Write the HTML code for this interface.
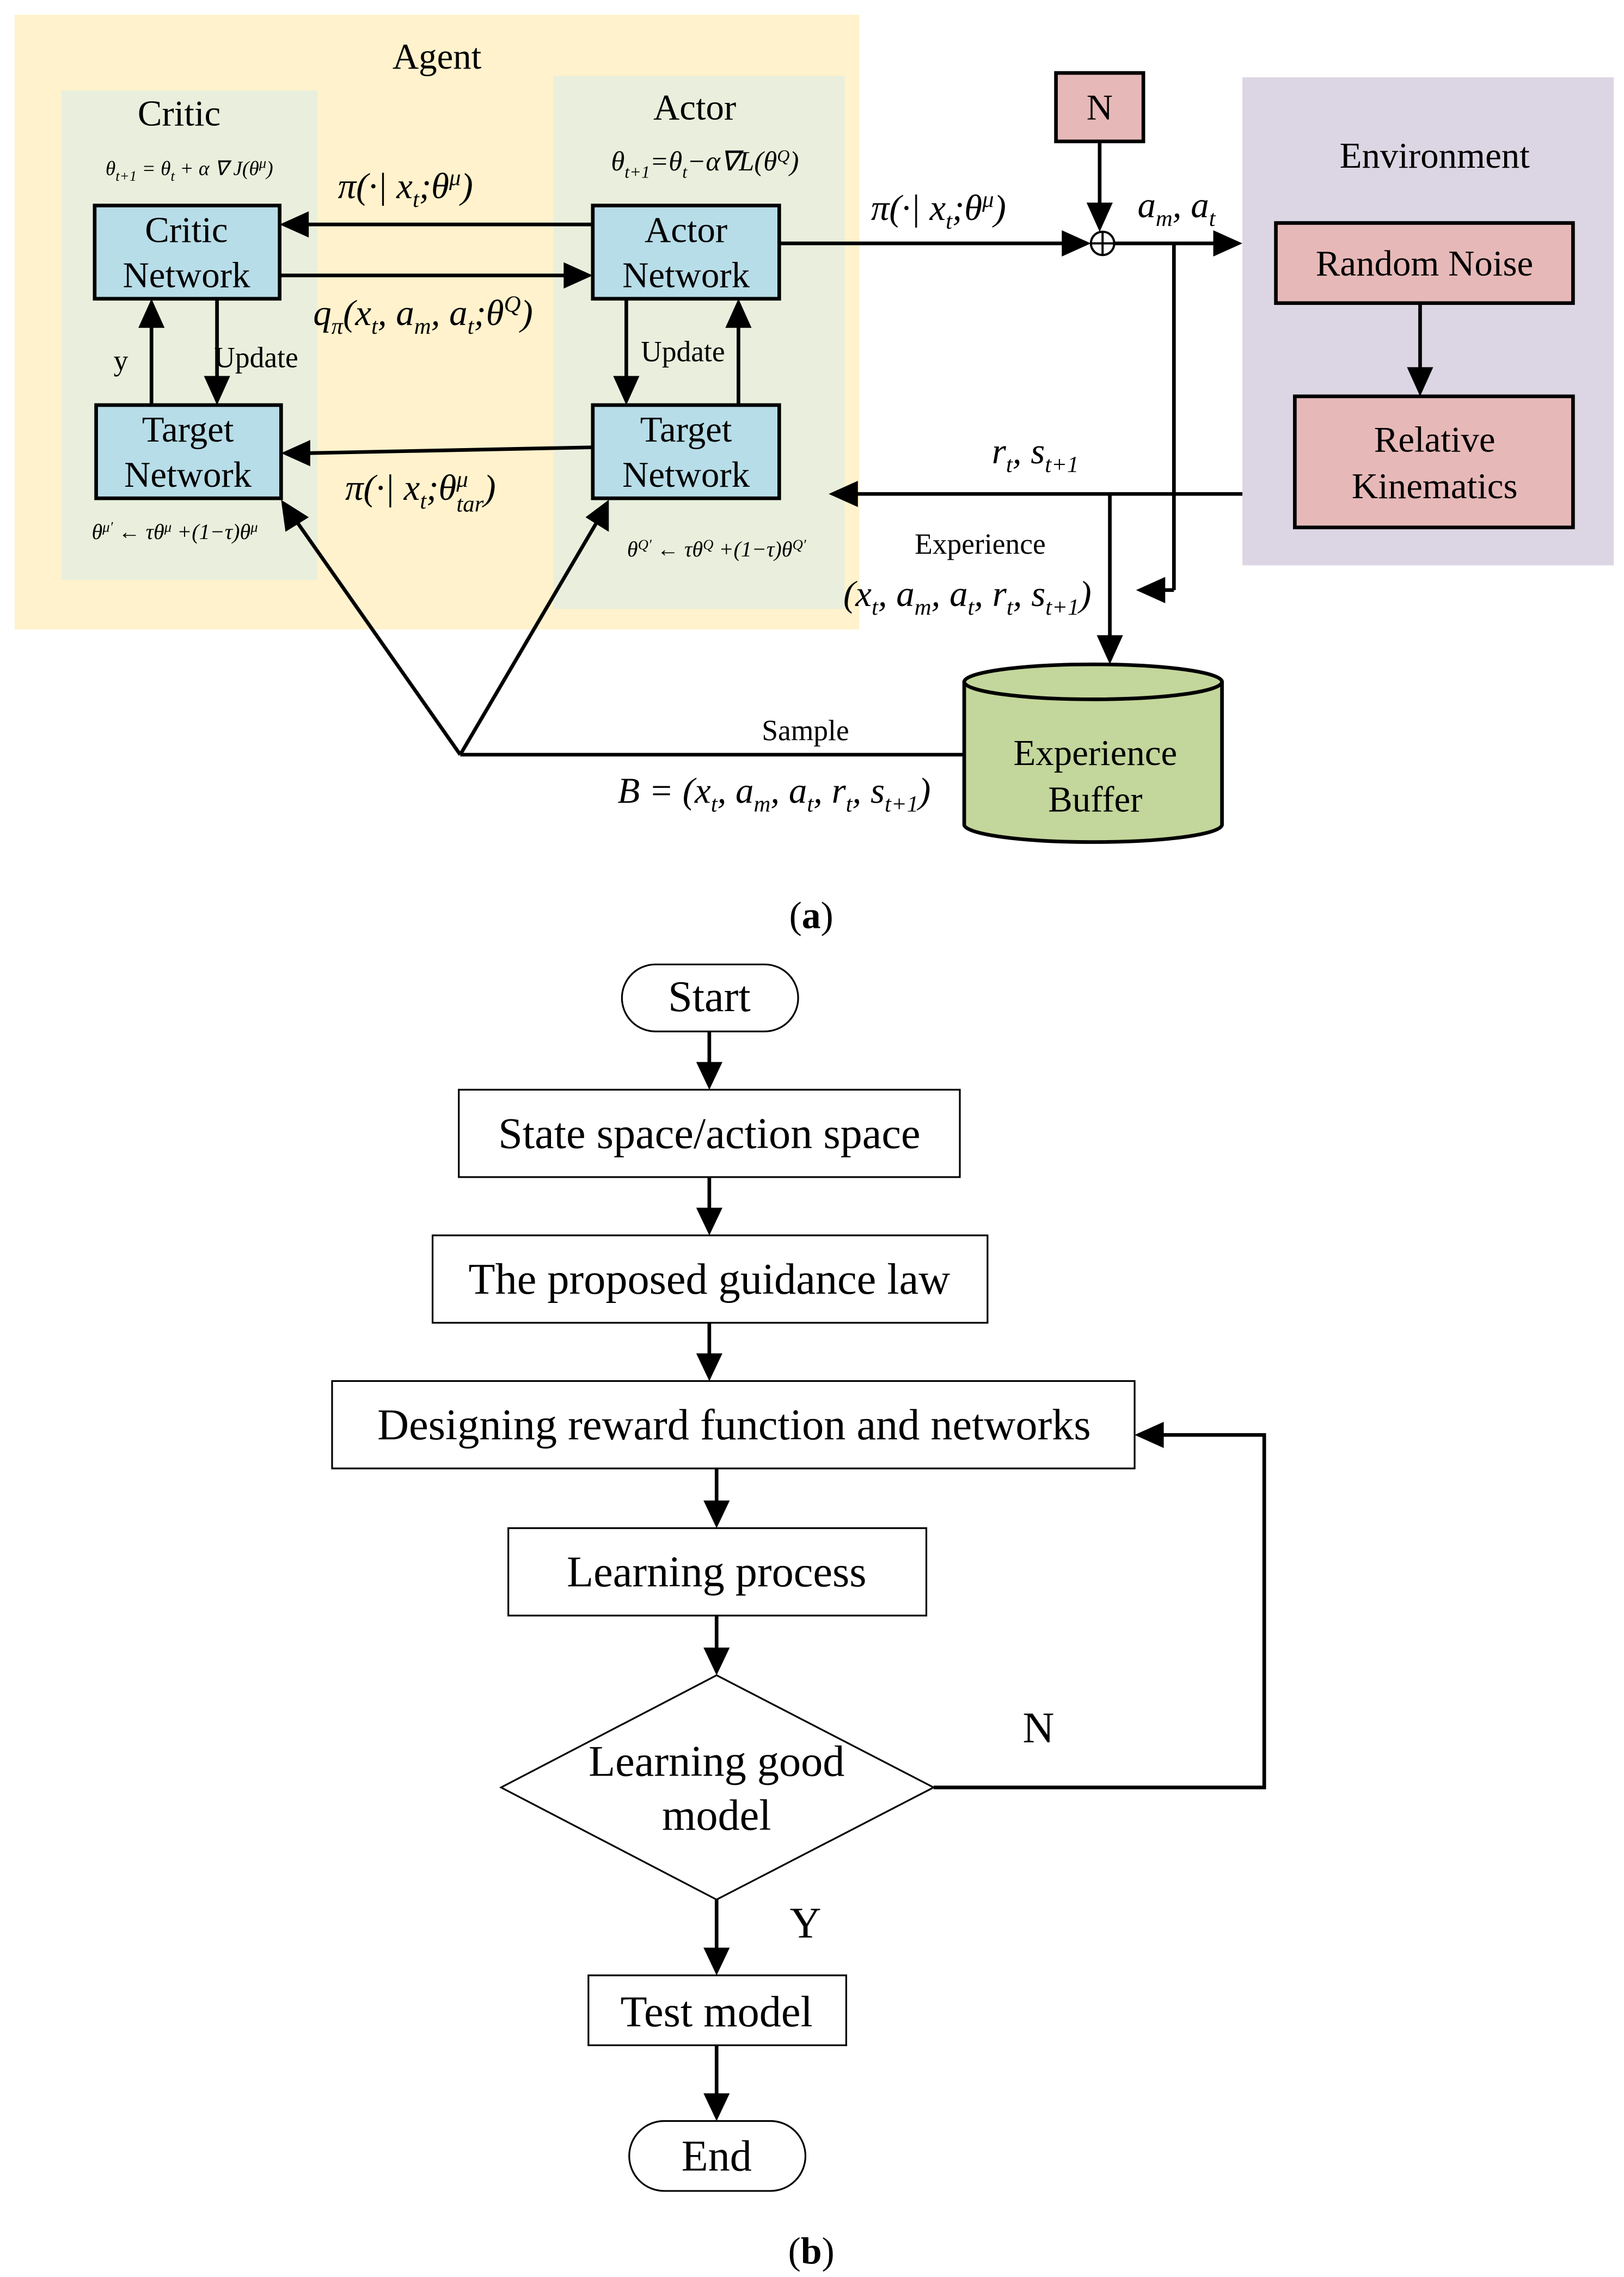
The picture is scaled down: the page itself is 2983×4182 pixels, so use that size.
<!DOCTYPE html>
<html><head><meta charset="utf-8"><style>
html,body{margin:0;padding:0;background:#fff}
svg{display:block}
text{font-family:"Liberation Serif","Times New Roman",serif;fill:#000}
.it{font-style:italic}
</style></head><body>
<svg width="2983" height="4182" viewBox="0 0 1115 1563" xmlns="http://www.w3.org/2000/svg">
<g id="a">
<rect x="10" y="10" width="580" height="422" fill="#fff2cc"/>
<rect x="42" y="62" width="176" height="336" fill="#e9efdc"/>
<rect x="380" y="52" width="200" height="366" fill="#e9efdc"/>
<rect x="853" y="53" width="255" height="335" fill="#dcd6e4"/>
<text x="300" y="47" font-size="25" text-anchor="middle">Agent</text>
<text x="123" y="86" font-size="25" text-anchor="middle">Critic</text>
<text x="477" y="82" font-size="25" text-anchor="middle">Actor</text>
<text x="985" y="115" font-size="25" text-anchor="middle">Environment</text>
<text x="130" y="120" font-size="14" text-anchor="middle" class="it">θ<tspan font-size="10" dy="4">t+1</tspan><tspan dy="-4"> = θ</tspan><tspan font-size="10" dy="4">t</tspan><tspan dy="-4"> + α ∇ J(θ</tspan><tspan font-size="10" dy="-5">μ</tspan><tspan dy="5">)</tspan></text>
<text x="484" y="117" font-size="19" text-anchor="middle" class="it">θ<tspan font-size="12" dy="5">t+1</tspan><tspan dy="-5">=θ</tspan><tspan font-size="12" dy="5">t</tspan><tspan dy="-5">−α∇L(θ</tspan><tspan font-size="12" dy="-6">Q</tspan><tspan dy="6">)</tspan></text>
<text x="120" y="370" font-size="15" text-anchor="middle" class="it">θ<tspan font-size="10" dy="-5">μ′</tspan><tspan dy="5"> ← τθ</tspan><tspan font-size="10" dy="-5">μ</tspan><tspan dy="5"> +(1−τ)θ</tspan><tspan font-size="10" dy="-5">μ</tspan></text>
<text x="492" y="382" font-size="15" text-anchor="middle" class="it">θ<tspan font-size="10" dy="-5">Q′</tspan><tspan dy="5"> ← τθ</tspan><tspan font-size="10" dy="-5">Q</tspan><tspan dy="5"> +(1−τ)θ</tspan><tspan font-size="10" dy="-5">Q′</tspan></text>

<g fill="#b7dde8" stroke="#000" stroke-width="2.5">
<rect x="65" y="141" width="127" height="64"/>
<rect x="66" y="278" width="127" height="64"/>
<rect x="407" y="141" width="128" height="64"/>
<rect x="407" y="278" width="128" height="64"/>
</g>
<g fill="#e6b9b8" stroke="#000" stroke-width="2.5">
<rect x="725" y="50" width="60" height="47"/>
<rect x="876" y="153" width="204" height="55"/>
<rect x="889" y="272" width="191" height="90"/>
</g>
<!-- cylinder -->
<path d="M662,468 L662,566 A88.5,12 0 0 0 839,566 L839,468" fill="#c3d69b" stroke="#000" stroke-width="2.5"/>
<ellipse cx="750.5" cy="468" rx="88.5" ry="12" fill="#c3d69b" stroke="#000" stroke-width="2.5"/>
<g font-size="25" text-anchor="middle">
<text x="128" y="166">Critic</text><text x="128" y="197">Network</text>
<text x="129" y="303">Target</text><text x="129" y="334">Network</text>
<text x="471" y="166">Actor</text><text x="471" y="197">Network</text>
<text x="471" y="303">Target</text><text x="471" y="334">Network</text>
<text x="755" y="82">N</text>
<text x="978" y="189">Random Noise</text>
<text x="985" y="310">Relative</text><text x="985" y="342">Kinematics</text>
<text x="752" y="525">Experience</text><text x="752" y="557">Buffer</text>
</g>

<g stroke="#000" stroke-width="2.5" fill="none">
<line x1="407" y1="154" x2="210" y2="154"/>
<line x1="192" y1="189" x2="389" y2="189"/>
<line x1="149" y1="205" x2="149" y2="260"/>
<line x1="104" y1="278" x2="104" y2="223"/>
<line x1="430" y1="205" x2="430" y2="260"/>
<line x1="507" y1="278" x2="507" y2="223"/>
<line x1="407" y1="307" x2="211" y2="311"/>
<line x1="316" y1="518" x2="203" y2="357"/>
<line x1="316" y1="518" x2="410" y2="358"/>
<line x1="316" y1="518" x2="662" y2="518"/>
<line x1="535" y1="167" x2="731" y2="167"/>
<line x1="765" y1="167" x2="836" y2="167"/>
<line x1="755" y1="97" x2="755" y2="141"/>
<line x1="806" y1="167" x2="806" y2="405"/>
<line x1="806" y1="405" x2="798" y2="405"/>
<line x1="853" y1="339" x2="587" y2="339"/>
<line x1="762" y1="339" x2="762" y2="437"/>
<line x1="975" y1="208" x2="975" y2="254"/>
</g>
<circle cx="757" cy="167" r="8" fill="#fff" stroke="#000" stroke-width="1.5"/>
<line x1="749" y1="167" x2="765" y2="167" stroke="#000" stroke-width="1.5"/>
<line x1="757" y1="159" x2="757" y2="175" stroke="#000" stroke-width="1.5"/>
<g fill="#000">
<polygon points="192,154 212,145 212,163"/>
<polygon points="407,189 387,180 387,198"/>
<polygon points="149,278 140,258 158,258"/>
<polygon points="104,205 95,225 113,225"/>
<polygon points="430,278 421,258 439,258"/>
<polygon points="507,205 498,225 516,225"/>
<polygon points="193,311 213,302 213,320"/>
<polygon points="193,343 196,365 212,355"/>
<polygon points="418,343 402,355 418,365"/>
<polygon points="749,167 729,158 729,176"/>
<polygon points="853,167 833,158 833,176"/>
<polygon points="755,159 746,139 764,139"/>
<polygon points="780,405 800,396 800,414"/>
<polygon points="569,339 589,330 589,348"/>
<polygon points="762,456 753,436 771,436"/>
<polygon points="975,272 966,252 984,252"/>
</g>
<g class="it" font-size="25">
<text x="232" y="136">π(·| x<tspan font-size="16" dy="6">t</tspan><tspan dy="-6">;θ</tspan><tspan font-size="16" dy="-9">μ</tspan><tspan dy="9">)</tspan></text>
<text x="215" y="223">q<tspan font-size="16" dy="6">π</tspan><tspan dy="-6">(x</tspan><tspan font-size="16" dy="6">t</tspan><tspan dy="-6">, a</tspan><tspan font-size="16" dy="6">m</tspan><tspan dy="-6">, a</tspan><tspan font-size="16" dy="6">t</tspan><tspan dy="-6">;θ</tspan><tspan font-size="16" dy="-9">Q</tspan><tspan dy="9">)</tspan></text>
<text x="237" y="343">π(·| x<tspan font-size="16" dy="6">t</tspan><tspan dy="-6">;θ</tspan><tspan font-size="16" dy="-9">μ</tspan><tspan font-size="16" dx="-8" dy="17">tar</tspan><tspan dy="-8">)</tspan></text>
<text x="598" y="151">π(·| x<tspan font-size="16" dy="6">t</tspan><tspan dy="-6">;θ</tspan><tspan font-size="16" dy="-9">μ</tspan><tspan dy="9">)</tspan></text>
<text x="781" y="149">a<tspan font-size="16" dy="6">m</tspan><tspan dy="-6">, a</tspan><tspan font-size="16" dy="6">t</tspan></text>
<text x="681" y="318">r<tspan font-size="16" dy="6">t</tspan><tspan dy="-6">, s</tspan><tspan font-size="16" dy="6">t+1</tspan></text>
<text x="579" y="416">(x<tspan font-size="16" dy="6">t</tspan><tspan dy="-6">, a</tspan><tspan font-size="16" dy="6">m</tspan><tspan dy="-6">, a</tspan><tspan font-size="16" dy="6">t</tspan><tspan dy="-6">, r</tspan><tspan font-size="16" dy="6">t</tspan><tspan dy="-6">, s</tspan><tspan font-size="16" dy="6">t+1</tspan><tspan dy="-6">)</tspan></text>
<text x="424" y="551">B = (x<tspan font-size="16" dy="6">t</tspan><tspan dy="-6">, a</tspan><tspan font-size="16" dy="6">m</tspan><tspan dy="-6">, a</tspan><tspan font-size="16" dy="6">t</tspan><tspan dy="-6">, r</tspan><tspan font-size="16" dy="6">t</tspan><tspan dy="-6">, s</tspan><tspan font-size="16" dy="6">t+1</tspan><tspan dy="-6">)</tspan></text>
</g>
<g font-size="20">
<text x="147" y="252">Update</text>
<text x="440" y="248">Update</text>
<text x="78" y="254">y</text>
<text x="628" y="380">Experience</text>
<text x="523" y="508">Sample</text>
</g>
<text x="557" y="637" font-size="26" text-anchor="middle">(<tspan font-weight="bold">a</tspan>)</text>
</g>

<g id="b">
<g fill="#fff" stroke="#000" stroke-width="1.2">
<rect x="427" y="662" width="121" height="46" rx="23"/>
<rect x="315" y="748" width="344" height="60"/>
<rect x="297" y="848" width="381" height="60"/>
<rect x="228" y="948" width="551" height="60"/>
<rect x="349" y="1049" width="287" height="60"/>
<polygon points="492,1150 641,1227 492,1304 344,1227"/>
<rect x="404" y="1356" width="177" height="48"/>
<rect x="432" y="1456" width="121" height="48" rx="24"/>
</g>
<g font-size="30" text-anchor="middle">
<text x="487" y="694">Start</text>
<text x="487" y="788">State space/action space</text>
<text x="487" y="888">The proposed guidance law</text>
<text x="504" y="988">Designing reward function and networks</text>
<text x="492" y="1089">Learning process</text>
<text x="492" y="1219">Learning good</text>
<text x="492" y="1256">model</text>
<text x="492" y="1391">Test model</text>
<text x="492" y="1490">End</text>
<text x="713" y="1196">N</text>
<text x="553" y="1330">Y</text>
</g>
<g stroke="#000" stroke-width="2.5" fill="none">
<line x1="487" y1="708" x2="487" y2="732"/>
<line x1="487" y1="808" x2="487" y2="832"/>
<line x1="487" y1="908" x2="487" y2="932"/>
<line x1="492" y1="1008" x2="492" y2="1033"/>
<line x1="492" y1="1109" x2="492" y2="1134"/>
<line x1="492" y1="1304" x2="492" y2="1340"/>
<line x1="492" y1="1404" x2="492" y2="1440"/>
<polyline points="641,1227 868,1227 868,985 797,985"/>
</g>
<g fill="#000">
<polygon points="487,748 478,729 496,729"/>
<polygon points="487,848 478,829 496,829"/>
<polygon points="487,948 478,929 496,929"/>
<polygon points="492,1049 483,1030 501,1030"/>
<polygon points="492,1150 483,1131 501,1131"/>
<polygon points="492,1356 483,1337 501,1337"/>
<polygon points="492,1456 483,1437 501,1437"/>
<polygon points="779,985 799,976 799,994"/>
</g>
<text x="557" y="1554" font-size="26" text-anchor="middle">(<tspan font-weight="bold">b</tspan>)</text>
</g>
</svg>
</body></html>
